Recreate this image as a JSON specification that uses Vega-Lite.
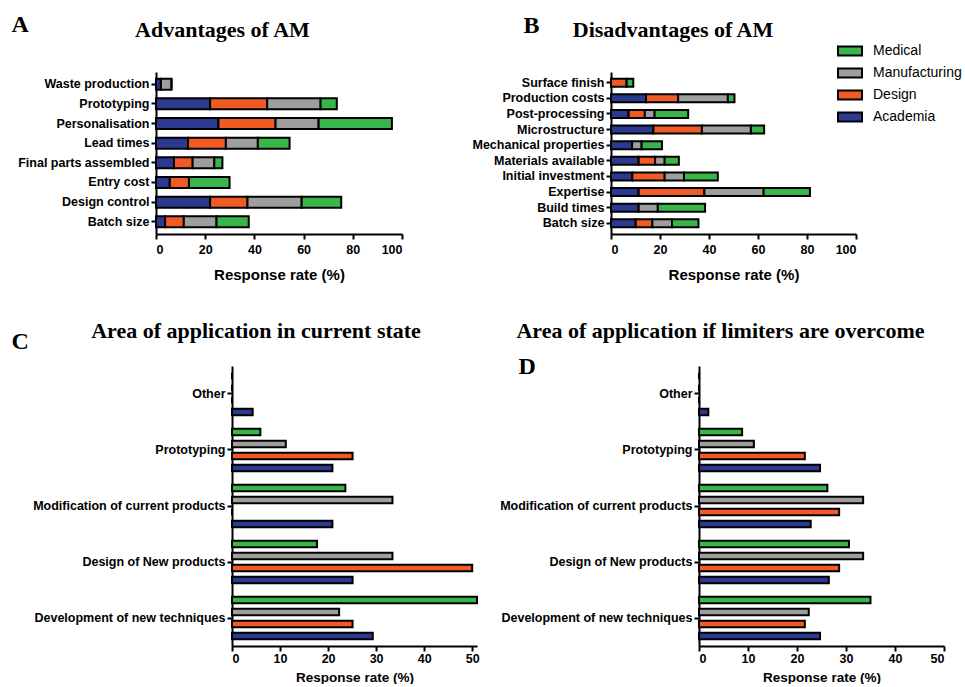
{
  "$schema": "https://vega.github.io/schema/vega-lite/v6.json",
  "padding": {"left": 11, "top": 12, "right": 0, "bottom": 0},
  "background": "white",
  "datasets": {
    "adv": [
      {"item": "Waste production", "group": "Academia", "value": 2},
      {"item": "Waste production", "group": "Design", "value": 0},
      {"item": "Waste production", "group": "Manufacturing", "value": 4.3},
      {"item": "Waste production", "group": "Medical", "value": 0},
      {"item": "Prototyping", "group": "Academia", "value": 22},
      {"item": "Prototyping", "group": "Design", "value": 23.2},
      {"item": "Prototyping", "group": "Manufacturing", "value": 21.7},
      {"item": "Prototyping", "group": "Medical", "value": 6.6},
      {"item": "Personalisation", "group": "Academia", "value": 25.4},
      {"item": "Personalisation", "group": "Design", "value": 23.2},
      {"item": "Personalisation", "group": "Manufacturing", "value": 17.5},
      {"item": "Personalisation", "group": "Medical", "value": 29.8},
      {"item": "Lead times", "group": "Academia", "value": 13},
      {"item": "Lead times", "group": "Design", "value": 15.4},
      {"item": "Lead times", "group": "Manufacturing", "value": 13},
      {"item": "Lead times", "group": "Medical", "value": 12.9},
      {"item": "Final parts assembled", "group": "Academia", "value": 7.3},
      {"item": "Final parts assembled", "group": "Design", "value": 7.6},
      {"item": "Final parts assembled", "group": "Manufacturing", "value": 8.8},
      {"item": "Final parts assembled", "group": "Medical", "value": 3.3},
      {"item": "Entry cost", "group": "Academia", "value": 5.6},
      {"item": "Entry cost", "group": "Design", "value": 7.8},
      {"item": "Entry cost", "group": "Manufacturing", "value": 0},
      {"item": "Entry cost", "group": "Medical", "value": 16.5},
      {"item": "Design control", "group": "Academia", "value": 22},
      {"item": "Design control", "group": "Design", "value": 15.2},
      {"item": "Design control", "group": "Manufacturing", "value": 22},
      {"item": "Design control", "group": "Medical", "value": 16.1},
      {"item": "Batch size", "group": "Academia", "value": 3.7},
      {"item": "Batch size", "group": "Design", "value": 7.6},
      {"item": "Batch size", "group": "Manufacturing", "value": 13.3},
      {"item": "Batch size", "group": "Medical", "value": 13.1}
    ],
    "dis": [
      {"item": "Surface finish", "group": "Academia", "value": 0},
      {"item": "Surface finish", "group": "Design", "value": 6.4},
      {"item": "Surface finish", "group": "Manufacturing", "value": 0},
      {"item": "Surface finish", "group": "Medical", "value": 2.7},
      {"item": "Production costs", "group": "Academia", "value": 14.3},
      {"item": "Production costs", "group": "Design", "value": 13.1},
      {"item": "Production costs", "group": "Manufacturing", "value": 20.3},
      {"item": "Production costs", "group": "Medical", "value": 2.7},
      {"item": "Post-processing", "group": "Academia", "value": 7.2},
      {"item": "Post-processing", "group": "Design", "value": 6.6},
      {"item": "Post-processing", "group": "Manufacturing", "value": 4},
      {"item": "Post-processing", "group": "Medical", "value": 13.7},
      {"item": "Microstructure", "group": "Academia", "value": 17.3},
      {"item": "Microstructure", "group": "Design", "value": 19.8},
      {"item": "Microstructure", "group": "Manufacturing", "value": 20},
      {"item": "Microstructure", "group": "Medical", "value": 5.4},
      {"item": "Mechanical properties", "group": "Academia", "value": 8.6},
      {"item": "Mechanical properties", "group": "Design", "value": 0},
      {"item": "Mechanical properties", "group": "Manufacturing", "value": 3.9},
      {"item": "Mechanical properties", "group": "Medical", "value": 8.3},
      {"item": "Materials available", "group": "Academia", "value": 11.3},
      {"item": "Materials available", "group": "Design", "value": 6.7},
      {"item": "Materials available", "group": "Manufacturing", "value": 3.9},
      {"item": "Materials available", "group": "Medical", "value": 5.8},
      {"item": "Initial investment", "group": "Academia", "value": 8.7},
      {"item": "Initial investment", "group": "Design", "value": 13.2},
      {"item": "Initial investment", "group": "Manufacturing", "value": 7.9},
      {"item": "Initial investment", "group": "Medical", "value": 13.8},
      {"item": "Expertise", "group": "Academia", "value": 11.3},
      {"item": "Expertise", "group": "Design", "value": 26.8},
      {"item": "Expertise", "group": "Manufacturing", "value": 24.2},
      {"item": "Expertise", "group": "Medical", "value": 18.9},
      {"item": "Build times", "group": "Academia", "value": 11.3},
      {"item": "Build times", "group": "Design", "value": 0},
      {"item": "Build times", "group": "Manufacturing", "value": 7.8},
      {"item": "Build times", "group": "Medical", "value": 19.3},
      {"item": "Batch size", "group": "Academia", "value": 10.1},
      {"item": "Batch size", "group": "Design", "value": 6.8},
      {"item": "Batch size", "group": "Manufacturing", "value": 8},
      {"item": "Batch size", "group": "Medical", "value": 10.8}
    ],
    "cur": [
      {"item": "Other", "group": "Academia", "value": 4.3},
      {"item": "Other", "group": "Design", "value": 0},
      {"item": "Other", "group": "Manufacturing", "value": 0},
      {"item": "Other", "group": "Medical", "value": 0},
      {"item": "Prototyping", "group": "Academia", "value": 20.9},
      {"item": "Prototyping", "group": "Design", "value": 25.1},
      {"item": "Prototyping", "group": "Manufacturing", "value": 11.2},
      {"item": "Prototyping", "group": "Medical", "value": 5.9},
      {"item": "Modification of current products", "group": "Academia", "value": 20.9},
      {"item": "Modification of current products", "group": "Design", "value": 0},
      {"item": "Modification of current products", "group": "Manufacturing", "value": 33.4},
      {"item": "Modification of current products", "group": "Medical", "value": 23.6},
      {"item": "Design of New products", "group": "Academia", "value": 25.1},
      {"item": "Design of New products", "group": "Design", "value": 50},
      {"item": "Design of New products", "group": "Manufacturing", "value": 33.4},
      {"item": "Design of New products", "group": "Medical", "value": 17.7},
      {"item": "Development of new techniques", "group": "Academia", "value": 29.3},
      {"item": "Development of new techniques", "group": "Design", "value": 25.1},
      {"item": "Development of new techniques", "group": "Manufacturing", "value": 22.3},
      {"item": "Development of new techniques", "group": "Medical", "value": 51}
    ],
    "over": [
      {"item": "Other", "group": "Academia", "value": 1.9},
      {"item": "Other", "group": "Design", "value": 0},
      {"item": "Other", "group": "Manufacturing", "value": 0},
      {"item": "Other", "group": "Medical", "value": 0},
      {"item": "Prototyping", "group": "Academia", "value": 24.7},
      {"item": "Prototyping", "group": "Design", "value": 21.6},
      {"item": "Prototyping", "group": "Manufacturing", "value": 11.2},
      {"item": "Prototyping", "group": "Medical", "value": 8.8},
      {"item": "Modification of current products", "group": "Academia", "value": 22.8},
      {"item": "Modification of current products", "group": "Design", "value": 28.6},
      {"item": "Modification of current products", "group": "Manufacturing", "value": 33.5},
      {"item": "Modification of current products", "group": "Medical", "value": 26.2},
      {"item": "Design of New products", "group": "Academia", "value": 26.5},
      {"item": "Design of New products", "group": "Design", "value": 28.6},
      {"item": "Design of New products", "group": "Manufacturing", "value": 33.5},
      {"item": "Design of New products", "group": "Medical", "value": 30.6},
      {"item": "Development of new techniques", "group": "Academia", "value": 24.7},
      {"item": "Development of new techniques", "group": "Design", "value": 21.6},
      {"item": "Development of new techniques", "group": "Manufacturing", "value": 22.4},
      {"item": "Development of new techniques", "group": "Medical", "value": 35}
    ]
  },
  "spacing": 36,
  "vconcat": [
    {
      "spacing": 69,
      "hconcat": [
        {
          "data": {"name": "adv"},
          "width": 246,
          "height": 162,
          "title": {"text": "Advantages of AM", "dx": -56.5, "offset": -29.5},
          "mark": {"type": "bar", "stroke": "black", "strokeWidth": 2},
          "encoding": {
            "y": {"field": "item", "type": "nominal",
              "sort": ["Waste production", "Prototyping", "Personalisation", "Lead times", "Final parts assembled", "Entry cost", "Design control", "Batch size"],
              "scale": {"paddingInner": 0.44, "paddingOuter": 0.34},
              "axis": {"title": "A", "titleX": -145, "titleY": -41}},
            "x": {"field": "value", "type": "quantitative", "stack": "zero",
              "scale": {"domain": [0, 100], "nice": false},
              "axis": {"values": [0, 20, 40, 60, 80, 100], "title": "Response rate (%)", "titleFontSize": 15}},
            "color": {"field": "group", "type": "nominal",
              "scale": {"domain": ["Medical", "Manufacturing", "Design", "Academia"], "range": ["#39b54a", "#9e9e9e", "#f15a24", "#2b3990"]},
              "legend": {"title": null, "orient": "none", "legendX": 681, "legendY": -34}},
            "order": {"field": "group", "sort": "ascending"}
          }
        },
        {
          "data": {"name": "dis"},
          "width": 245,
          "height": 162,
          "title": {"text": "Disadvantages of AM", "dx": -60.5, "offset": -29},
          "mark": {"type": "bar", "stroke": "black", "strokeWidth": 2},
          "encoding": {
            "y": {"field": "item", "type": "nominal",
              "sort": ["Surface finish", "Production costs", "Post-processing", "Microstructure", "Mechanical properties", "Materials available", "Initial investment", "Expertise", "Build times", "Batch size"],
              "scale": {"paddingInner": 0.49, "paddingOuter": 0.43},
              "axis": {"title": "B", "titleX": -88, "titleY": -40}},
            "x": {"field": "value", "type": "quantitative", "stack": "zero",
              "scale": {"domain": [0, 100], "nice": false},
              "axis": {"values": [0, 20, 40, 60, 80, 100], "title": "Response rate (%)", "titleFontSize": 15}},
            "color": {"field": "group", "type": "nominal",
              "scale": {"domain": ["Medical", "Manufacturing", "Design", "Academia"], "range": ["#39b54a", "#9e9e9e", "#f15a24", "#2b3990"]},
              "legend": {"title": null, "orient": "none", "legendX": 681, "legendY": -34}},
            "order": {"field": "group", "sort": "ascending"}
          }
        }
      ]
    },
    {
      "spacing": 19,
      "resolve": {"scale": {"yOffset": "independent"}},
      "hconcat": [
        {
          "data": {"name": "cur"},
          "width": 321,
          "height": 280,
          "title": {"text": "Area of application in current state", "dx": -60.5, "offset": -13.5},
          "mark": {"type": "bar", "stroke": "black", "strokeWidth": 2},
          "encoding": {
            "y": {"field": "item", "type": "nominal",
              "sort": ["Other", "Prototyping", "Modification of current products", "Design of New products", "Development of new techniques"],
              "scale": {"paddingInner": 0.143, "paddingOuter": 0.0714},
              "axis": {"title": "C", "titleX": -221, "titleY": -18, "offset": -76}},
            "yOffset": {"field": "group", "type": "nominal",
              "sort": ["Medical", "Manufacturing", "Design", "Academia"],
              "scale": {"paddingInner": 0.45, "paddingOuter": 0.225}},
            "x": {"field": "value", "type": "quantitative",
              "scale": {"domain": [0, 51], "range": [76, 321], "nice": false},
              "axis": {"values": [0, 10, 20, 30, 40, 50], "title": "Response rate (%)", "titleFontSize": 13.5, "labelPadding": 1, "titlePadding": 6}},
            "color": {"field": "group", "type": "nominal",
              "scale": {"domain": ["Medical", "Manufacturing", "Design", "Academia"], "range": ["#39b54a", "#9e9e9e", "#f15a24", "#2b3990"]},
              "legend": {"title": null, "orient": "none", "legendX": 681, "legendY": -34}}
          }
        },
        {
          "data": {"name": "over"},
          "width": 245,
          "height": 280,
          "title": {"text": "Area of application if limiters are overcome", "dx": -101, "offset": 11.5},
          "mark": {"type": "bar", "stroke": "black", "strokeWidth": 2},
          "encoding": {
            "y": {"field": "item", "type": "nominal",
              "sort": ["Other", "Prototyping", "Modification of current products", "Design of New products", "Development of new techniques"],
              "scale": {"paddingInner": 0.143, "paddingOuter": 0.0714},
              "axis": {"title": "D", "titleX": -181, "titleY": 7}},
            "yOffset": {"field": "group", "type": "nominal",
              "sort": ["Medical", "Manufacturing", "Design", "Academia"],
              "scale": {"paddingInner": 0.45, "paddingOuter": 0.225}},
            "x": {"field": "value", "type": "quantitative",
              "scale": {"domain": [0, 50], "nice": false},
              "axis": {"values": [0, 10, 20, 30, 40, 50], "title": "Response rate (%)", "titleFontSize": 13.5, "labelPadding": 1, "titlePadding": 6}},
            "color": {"field": "group", "type": "nominal",
              "scale": {"domain": ["Medical", "Manufacturing", "Design", "Academia"], "range": ["#39b54a", "#9e9e9e", "#f15a24", "#2b3990"]},
              "legend": {"title": null, "orient": "none", "legendX": 681, "legendY": -34}}
          }
        }
      ]
    }
  ],
  "config": {
    "view": {"stroke": null},
    "font": "Liberation Sans",
    "axis": {
      "grid": false,
      "domainColor": "black",
      "domainWidth": 2,
      "tickColor": "black",
      "tickWidth": 2,
      "tickSize": 5,
      "labelColor": "black",
      "labelFont": "Liberation Sans",
      "labelFontWeight": "bold",
      "labelFontSize": 12.5,
      "labelLimit": 400,
      "titleColor": "black",
      "titleFont": "Liberation Sans",
      "titleFontWeight": "bold"
    },
    "axisX": {"labelPadding": 4, "titlePadding": 12, "labelAngle": 0},
    "axisY": {
      "labelPadding": 2,
      "titleAngle": 0,
      "titleFont": "Liberation Serif",
      "titleFontSize": 24,
      "titleFontWeight": "bold",
      "titleAlign": "left",
      "titleBaseline": "alphabetic"
    },
    "title": {
      "font": "Liberation Serif",
      "fontSize": 22,
      "fontWeight": "bold",
      "color": "black",
      "anchor": "middle",
      "frame": "group",
      "baseline": "alphabetic"
    },
    "legend": {
      "symbolType": "M-1,-0.375L1,-0.375L1,0.375L-1,0.375Z",
      "symbolSize": 576,
      "symbolStrokeColor": "black",
      "symbolStrokeWidth": 2,
      "symbolOpacity": 1,
      "labelFont": "Liberation Sans",
      "labelFontSize": 14,
      "labelColor": "black",
      "labelOffset": 10,
      "rowPadding": 0,
      "padding": 0
    }
  }
}
